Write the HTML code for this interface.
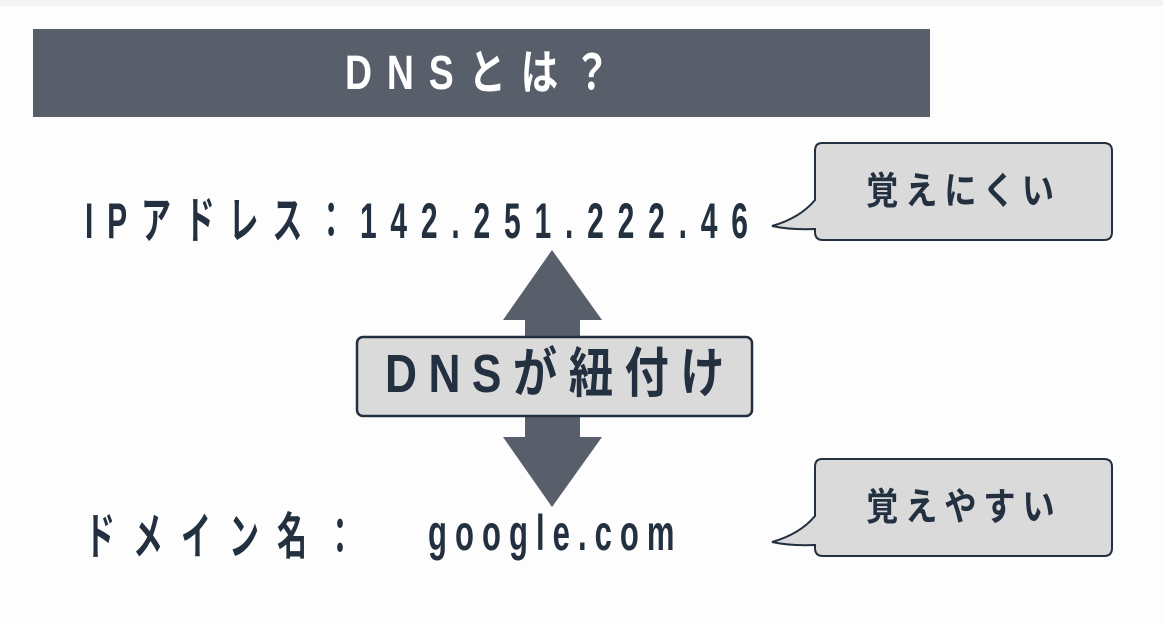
<!DOCTYPE html>
<html><head><meta charset="utf-8"><style>
body{margin:0;width:1163px;height:625px;background:#fdfdfd;position:relative;overflow:hidden;font-family:"Liberation Sans","Noto Sans CJK JP",sans-serif;color:#233040;font-weight:bold}
.t{position:absolute;white-space:nowrap;transform-origin:0 0;line-height:1}
</style></head><body>
<div style="position:absolute;left:0;top:0;width:1163px;height:6px;background:#f3f3f3"></div>
<div style="position:absolute;left:33px;top:29px;width:897px;height:88px;background:#585f6a"></div>
<div class="t" style="left:345px;top:50px;font-size:48px;color:#fff;letter-spacing:19px;transform:scaleX(0.78)">DNSとは？</div>

<div class="t" style="left:85px;top:196px;font-size:50px;letter-spacing:23px;transform:scaleX(0.6)">IPアドレス：142.251.222.46</div>
<div class="t" style="left:85px;top:512px;font-size:50px;letter-spacing:30px;transform:scaleX(0.6)">ドメイン名：</div>
<div class="t" style="left:428px;top:508px;font-size:50px;letter-spacing:13px;transform:scaleX(0.62)">google.com</div>

<svg style="position:absolute;left:0;top:0" width="1163" height="625">
<polygon points="552,250 602,320 580,320 580,437 602,437 552,507 503,437 525,437 525,320 503,320" fill="#585f6a"/>
<rect x="357" y="337" width="395" height="79" rx="6" fill="#dadada" stroke="#233040" stroke-width="2.5"/>
<g fill="#dadada" stroke="#233040" stroke-width="2">
<path d="M822,143 H1104 Q1112,143 1112,151 V232 Q1112,240 1104,240 H823 Q815,240 815,232 V229 Q790,230 772,226 Q800,218 815,200 V151 Q815,143 822,143 Z"/>
<path d="M822,459 H1104 Q1112,459 1112,467 V548 Q1112,556 1104,556 H823 Q815,556 815,548 V545 Q790,546 772,542 Q800,534 815,516 V467 Q815,459 822,459 Z"/>
</g>
</svg>
<div class="t" style="left:385px;top:347px;font-size:54px;letter-spacing:14px;transform:scaleX(0.82)">DNSが紐付け</div>
<div class="t" style="left:866px;top:173px;font-size:38px;letter-spacing:8px;transform:scaleX(0.85)">覚えにくい</div>
<div class="t" style="left:866px;top:489px;font-size:38px;letter-spacing:8px;transform:scaleX(0.85)">覚えやすい</div>
</body></html>
